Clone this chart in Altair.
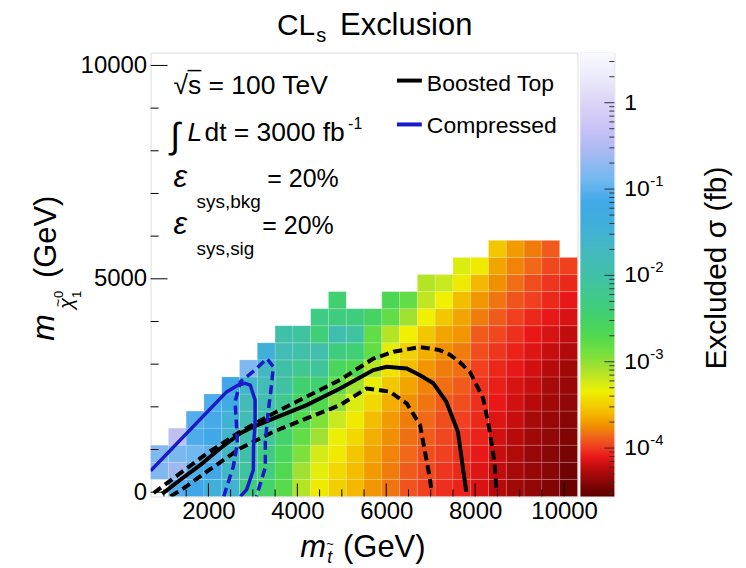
import altair as alt
import numpy as np
import pandas as pd

FONT = "Liberation Sans"

# ---------------- data ----------------
# bin centres (GeV); bins are 400 GeV wide
m_stop = [900, 1300, 1700, 2100, 2500, 2900, 3300, 3700, 4100, 4500, 4900, 5300,
          5700, 6100, 6500, 6900, 7300, 7700, 8100, 8500, 8900, 9300, 9700, 10100]
m_lsp = [100, 500, 900, 1300, 1700, 2100, 2500, 2900, 3300, 3700, 4100, 4500, 4900, 5300, 5700]
BIN = 400

# log10(excluded sigma / fb) per stop-mass column, lowest LSP bin first (None = empty)
lsig_0900 = [None, -0.8, -0.8]
lsig_1300 = [-1.05, -0.62, -0.85, -0.38]
lsig_1700 = [-1.15, -1.08, -0.9, -1.08, -1.05]
lsig_2100 = [-1.45, -1.15, -1.0, -1.15, -1.12, -1.08]
lsig_2500 = [-1.5, -1.7, -1.65, -1.6, -1.5, -1.25, -1.15]
lsig_2900 = [-2.3, -2.1, -2.0, -1.95, -1.85, -1.8, -1.6, -0.8]
lsig_3300 = [-2.5, -2.35, -2.3, -2.1, -2.0, -1.9, -1.8, -1.7, -1.45]
lsig_3700 = [-2.75, -2.7, -2.6, -2.5, -2.4, -2.2, -2.05, -2.0, -1.85, -2.0]
lsig_4100 = [-3.13, -3.05, -2.93, -2.8, -2.7, -2.55, -2.45, -2.2, -2.0, -2.07]
lsig_4500 = [-3.38, -3.3, -3.25, -3.05, -2.93, -2.7, -2.45, -2.1, -1.95, -2.4, -2.3]
lsig_4900 = [-3.49, -3.45, -3.38, -3.33, -3.2, -2.98, -2.8, -2.6, -2.33, -1.9, -2.33, -2.45]
lsig_5300 = [-3.6, -3.57, -3.53, -3.45, -3.38, -3.27, -3.05, -2.7, -2.4, -2.07, -2.33]
lsig_5700 = [-3.72, -3.7, -3.67, -3.63, -3.57, -3.45, -3.32, -3.13, -2.8, -2.8, -2.55]
lsig_6100 = [-3.82, -3.8, -3.78, -3.74, -3.7, -3.63, -3.53, -3.41, -3.3, -3.13, -2.8, -2.65]
lsig_6500 = [-3.92, -3.9, -3.86, -3.84, -3.8, -3.74, -3.67, -3.57, -3.49, -3.35, -3.05, -2.8]
lsig_6900 = [-3.98, -3.96, -3.94, -3.9, -3.86, -3.82, -3.78, -3.72, -3.63, -3.53, -3.35, -3.17, -3.13]
lsig_7300 = [-4.03, -4.01, -3.98, -3.96, -3.94, -3.9, -3.84, -3.8, -3.74, -3.67, -3.53, -3.35, -3.2]
lsig_7700 = [-4.07, -4.05, -4.03, -4.01, -3.98, -3.94, -3.9, -3.84, -3.8, -3.72, -3.67, -3.57, -3.38, -3.27]
lsig_8100 = [-4.15, -4.13, -4.1, -4.07, -4.05, -4.03, -4.02, -3.98, -3.94, -3.9, -3.8, -3.72, -3.6, -3.38]
lsig_8500 = [-4.25, -4.22, -4.2, -4.17, -4.13, -4.1, -4.08, -4.05, -4.01, -3.96, -3.9, -3.82, -3.74, -3.67, -3.53]
lsig_8900 = [-4.32, -4.3, -4.27, -4.25, -4.2, -4.17, -4.15, -4.1, -4.07, -4.03, -3.98, -3.92, -3.84, -3.78, -3.7]
lsig_9300 = [-4.37, -4.35, -4.35, -4.32, -4.3, -4.25, -4.2, -4.17, -4.13, -4.1, -4.05, -3.98, -3.94, -3.86, -3.8]
lsig_9700 = [-4.42, -4.4, -4.4, -4.37, -4.35, -4.32, -4.3, -4.25, -4.2, -4.15, -4.1, -4.05, -4.01, -3.96, -3.9]
lsig_10100 = [-4.5, -4.48, -4.45, -4.42, -4.4, -4.37, -4.35, -4.32, -4.27, -4.22, -4.15, -4.1, -4.05, -3.98]

columns = [lsig_0900, lsig_1300, lsig_1700, lsig_2100, lsig_2500, lsig_2900, lsig_3300,
           lsig_3700, lsig_4100, lsig_4500, lsig_4900, lsig_5300, lsig_5700, lsig_6100,
           lsig_6500, lsig_6900, lsig_7300, lsig_7700, lsig_8100, lsig_8500, lsig_8900,
           lsig_9300, lsig_9700, lsig_10100]

# exclusion contours (GeV)
boosted_x = [960, 1370, 1820, 2270, 2720, 2940, 3470, 4210, 4960, 5710, 6010, 6460, 6760, 7060, 7350, 7610, 7800]
boosted_y = [-40, 290, 640, 1030, 1380, 1500, 1730, 2040, 2430, 2860, 2940, 2900, 2740, 2550, 2120, 1420, 10]
boosted_up_x = [770, 1220, 1970, 2720, 3470, 4210, 4960, 5710, 6160, 6760, 7200, 7430, 7650, 7880, 8180, 8330, 8440, 8480]
boosted_up_y = [-20, 330, 910, 1420, 1850, 2240, 2630, 3130, 3290, 3400, 3330, 3220, 3050, 2820, 2200, 1420, 650, 0]
boosted_dn_x = [1150, 1450, 1970, 2720, 3470, 4210, 4960, 5560, 5860, 6080, 6460, 6760, 6870, 6980, 7020]
boosted_dn_y = [-100, 95, 485, 1030, 1420, 1730, 2040, 2430, 2390, 2355, 2080, 1575, 950, 330, 0]
compressed_x = [700, 2410, 2670, 2820, 2940, 3050, 3050, 3015, 3010, 2860, 2720]
compressed_y = [500, 2350, 2510, 2550, 2510, 2160, 1610, 1070, 520, 60, -100]
compressed_band_x = [2345, 2560, 2650, 2630, 2600, 2720, 3030, 3315, 3460, 3415, 3345, 3280, 3280, 3080]
compressed_band_y = [-100, 600, 1140, 1605, 2120, 2590, 2845, 3130, 2940, 2470, 1885, 1185, 580, -100]

# axis ticks / colour bar
x_major = [2000, 4000, 6000, 8000, 10000]
x_minor = [1000, 1500, 2500, 3000, 3500, 4500, 5000, 5500, 6500, 7000, 7500, 8500, 9000, 9500]
y_major = [0, 5000, 10000]
y_minor = [1000, 2000, 3000, 4000, 6000, 7000, 8000, 9000]
cb_min, cb_max = -4.56, 0.58
cb_logs = [-4.56, -4.45, -4.35, -4.22, -4.1, -3.98, -3.86, -3.74, -3.6, -3.45, -3.35, -3.2,
           -3.05, -2.88, -2.7, -2.45, -2.2, -2.0, -1.7, -1.45, -1.15, -0.9, -0.62, -0.35, 0.0, 0.3, 0.58]
cb_cols = ["#5c0000", "#780404", "#980808", "#c00c0c", "#e81818", "#f04020", "#f06818", "#f09000",
           "#f4b800", "#f0d800", "#f0f000", "#c8e820", "#a0e030", "#70e040", "#50d850", "#40d070",
           "#40c890", "#40c0a8", "#44b8c0", "#40b0d8", "#40a8e8", "#70b8f0", "#a0b8f0", "#c4c0f5",
           "#dcd4f8", "#ecebfb", "#fafaff"]
cb_major = [-4, -3, -2, -1]
cb_exp = ["-4", "-3", "-2", "-1"]

# ---------------- chart ----------------
W, H = 428, 445
xscale = alt.Scale(domain=[700, 10300], nice=False, zero=False)
yscale = alt.Scale(domain=[-100, 10300], nice=False, zero=False)
cscale = alt.Scale(domain=cb_logs, range=cb_cols, interpolate="rgb", zero=False, clamp=True)
xaxis = alt.Axis(values=x_major, title=None, ticks=False, domain=False, grid=False,
                 labelFont=FONT, labelFontSize=24, labelColor="black", labelPadding=3,
                 labelFlush=False, format="d")
yaxis = alt.Axis(values=y_major, title=None, ticks=False, domain=False, grid=False,
                 labelFont=FONT, labelFontSize=24, labelColor="black", labelPadding=4,
                 labelFlush=False, format="d")


def X(f):
    return alt.X(f, scale=xscale, axis=xaxis, title=None)


def Y(f):
    return alt.Y(f, scale=yscale, axis=yaxis, title=None)


rows = []
for i, col in enumerate(columns):
    for j, v in enumerate(col):
        if v is None:
            continue
        rows.append({"x0": m_stop[i] - BIN / 2, "x1": m_stop[i] + BIN / 2,
                     "y0": m_lsp[j] - BIN / 2, "y1": m_lsp[j] + BIN / 2, "v": v})
cells = pd.DataFrame(rows)

heat = alt.Chart(cells).mark_rect(stroke="white", strokeWidth=0.5, strokeOpacity=0.3).encode(
    x=X("x0:Q"), x2="x1:Q", y=Y("y0:Q"), y2="y1:Q",
    color=alt.Color("v:Q", scale=cscale, legend=None),
)


def line(xs, ys, color, width, dash=None):
    df = pd.DataFrame({"x": xs, "y": ys, "o": list(range(len(xs)))})
    kw = dict(color=color, strokeWidth=width, clip=True)
    if dash:
        kw["strokeDash"] = dash
    return alt.Chart(df).mark_line(**kw).encode(x=X("x:Q"), y=Y("y:Q"), order="o:Q")


BLUE = "#1a1ac8"
lines = [
    line(boosted_up_x, boosted_up_y, "black", 4, [9, 5]),
    line(boosted_dn_x, boosted_dn_y, "black", 4, [9, 5]),
    line(boosted_x, boosted_y, "black", 4),
    line(compressed_band_x, compressed_band_y, BLUE, 3.5, [9, 5]),
    line(compressed_x, compressed_y, BLUE, 3.5),
]


def xticks(vals, length):
    return alt.Chart(pd.DataFrame({"v": vals})).mark_rule(color="black", strokeWidth=1).encode(
        x=X("v:Q"), y=alt.value(H), y2=alt.value(H - length))


def yticks(vals, length):
    return alt.Chart(pd.DataFrame({"v": vals})).mark_rule(color="black", strokeWidth=1).encode(
        y=Y("v:Q"), x=alt.value(0), x2=alt.value(length))


one = pd.DataFrame({"k": [0]})


def txt(t, x, y, size, align="left", baseline="alphabetic", italic=False, angle=0):
    kw = dict(text=t, font=FONT, fontSize=size, align=align, baseline=baseline, color="black")
    if italic:
        kw["fontStyle"] = "italic"
    if angle:
        kw["angle"] = angle
    return alt.Chart(one).mark_text(**kw).encode(x=alt.value(x), y=alt.value(y))


def seg(x1, x2, y, color, width):
    return alt.Chart(one).mark_rule(color=color, strokeWidth=width).encode(
        x=alt.value(x1), x2=alt.value(x2), y=alt.value(y))


annot = [
    # title
    txt("CL", 165, -18, 30, align="right"),
    txt("s", 166, -11, 20),
    txt("Exclusion", 190, -18, 31),
    # text box
    txt("\u221as = 100 TeV", 23, 41, 26.5),
    seg(37, 51, 18, "black", 1.5),
    txt("\u222b", 20, 96, 36),
    txt("L", 37, 89, 26.5, italic=True),
    txt("dt = 3000 fb", 54, 89, 26.5),
    txt("-1", 198, 77, 16),
    txt("\u03b5", 23, 135, 31, italic=True),
    txt("sys,bkg", 46, 156, 19),
    txt("= 20%", 117, 135, 25),
    txt("\u03b5", 23, 182, 31, italic=True),
    txt("sys,sig", 46, 203, 19),
    txt("= 20%", 112, 182, 25),
    # legend
    seg(247, 272, 28, "black", 4),
    txt("Boosted Top", 277, 38, 23),
    seg(247, 272, 72, BLUE, 4),
    txt("Compressed", 277, 81, 23),
    # x axis title
    txt("m", 150, 506, 31, italic=True),
    txt("t", 177, 512, 18, italic=True),
    txt("~", 180, 493, 13, align="center", baseline="middle"),
    txt("(GeV)", 193, 506, 31),
    # y axis title (rotated)
    txt("m", -97, 289, 32, italic=True, angle=270),
    txt("\u03c7", -78, 257, 20, italic=True, angle=270),
    txt("~", -92, 251, 14, align="center", baseline="middle", angle=270),
    txt("0", -88, 246, 13, angle=270),
    txt("1", -70, 246, 13, angle=270),
    txt("(GeV)", -95, 226, 31, angle=270),
]

main = alt.layer(
    heat, *lines,
    xticks(x_major, 13), xticks(x_minor, 7),
    yticks(y_major, 17), yticks(y_minor, 8),
    *annot,
).properties(width=W, height=H)

# colour bar
cbw = 34
cb_scale = alt.Scale(domain=[cb_min, cb_max], nice=False, zero=False)
grad = alt.Gradient(
    gradient="linear",
    stops=[alt.GradientStop(offset=(l - cb_min) / (cb_max - cb_min), color=c)
           for l, c in zip(cb_logs, cb_cols)],
    x1=0, x2=0, y1=1, y2=0)
cb_rect = alt.Chart(pd.DataFrame({"lo": [cb_min], "hi": [cb_max]})).mark_rect(fill=grad).encode(
    y=alt.Y("lo:Q", scale=cb_scale, axis=None), y2="hi:Q", x=alt.value(0), x2=alt.value(cbw))

cb_minor_vals = []
for dec in [-5, -4, -3, -2, -1, 0]:
    for k in range(2, 10):
        v = dec + np.log10(k)
        if cb_min < v < cb_max:
            cb_minor_vals.append(float(v))

cb_tick_major = alt.Chart(pd.DataFrame({"v": cb_major + [0]})).mark_rule(color="#333", strokeWidth=1).encode(
    y=alt.Y("v:Q", scale=cb_scale, axis=None), x=alt.value(cbw - 10), x2=alt.value(cbw))
cb_tick_minor = alt.Chart(pd.DataFrame({"v": cb_minor_vals})).mark_rule(color="#333", strokeWidth=1).encode(
    y=alt.Y("v:Q", scale=cb_scale, axis=None), x=alt.value(cbw - 5), x2=alt.value(cbw))
cb_lab = pd.DataFrame({"v": cb_major, "e": cb_exp})
cb_ten = alt.Chart(cb_lab).mark_text(text="10", font=FONT, fontSize=23, align="left", baseline="middle").encode(
    y=alt.Y("v:Q", scale=cb_scale, axis=None), x=alt.value(44))
cb_pow = alt.Chart(cb_lab).mark_text(font=FONT, fontSize=15, align="left", baseline="middle", dy=-8).encode(
    y=alt.Y("v:Q", scale=cb_scale, axis=None), x=alt.value(70), text="e:N")
cb_one = alt.Chart(pd.DataFrame({"v": [0]})).mark_text(text="1", font=FONT, fontSize=23, align="left", baseline="middle").encode(
    y=alt.Y("v:Q", scale=cb_scale, axis=None), x=alt.value(44))
cb_title = alt.Chart(one).mark_text(text="Excluded \u03c3 (fb)", font=FONT, fontSize=30, align="center",
                                    baseline="alphabetic", angle=270).encode(x=alt.value(146), y=alt.value(216))

cbar = alt.layer(cb_rect, cb_tick_major, cb_tick_minor, cb_ten, cb_pow, cb_one, cb_title).properties(
    width=cbw, height=H)

chart = alt.HConcatChart(hconcat=[main, cbar], spacing=3, bounds="flush").properties(
    padding={"left": 19, "top": 0, "right": 5, "bottom": 0}
).configure_view(stroke="black", strokeWidth=1.5).configure(font=FONT)

chart.save("out.html", embed_options={"renderer": "svg", "actions": False})
